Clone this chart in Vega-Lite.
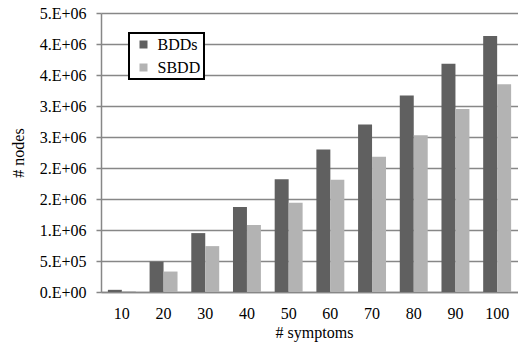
{
  "$schema": "https://vega.github.io/schema/vega-lite/v6.json",
  "width": 417,
  "height": 279,
  "autosize": {"type": "none"},
  "padding": {"left": 101, "top": 13, "right": 0, "bottom": 50},
  "background": "white",
  "config": {"view": {"stroke": null}, "font": "Liberation Serif", "legend": {"strokeWidth": 2}},
  "data": {"values": [
    {"n": 10, "series": "BDDs", "v": 35000},
    {"n": 10, "series": "SBDD", "v": 15000},
    {"n": 20, "series": "BDDs", "v": 490000},
    {"n": 20, "series": "SBDD", "v": 330000},
    {"n": 30, "series": "BDDs", "v": 950000},
    {"n": 30, "series": "SBDD", "v": 740000},
    {"n": 40, "series": "BDDs", "v": 1370000},
    {"n": 40, "series": "SBDD", "v": 1080000},
    {"n": 50, "series": "BDDs", "v": 1820000},
    {"n": 50, "series": "SBDD", "v": 1440000},
    {"n": 60, "series": "BDDs", "v": 2300000},
    {"n": 60, "series": "SBDD", "v": 1810000},
    {"n": 70, "series": "BDDs", "v": 2700000},
    {"n": 70, "series": "SBDD", "v": 2180000},
    {"n": 80, "series": "BDDs", "v": 3170000},
    {"n": 80, "series": "SBDD", "v": 2530000},
    {"n": 90, "series": "BDDs", "v": 3680000},
    {"n": 90, "series": "SBDD", "v": 2950000},
    {"n": 100, "series": "BDDs", "v": 4130000},
    {"n": 100, "series": "SBDD", "v": 3350000}
  ]},
  "mark": {"type": "bar"},
  "encoding": {
    "x": {
      "field": "n", "type": "ordinal", "title": "# symptoms",
      "scale": {"paddingInner": 0.33, "paddingOuter": 0.165},
      "axis": {
        "labelAngle": 0, "labelFont": "Liberation Serif", "labelFontSize": 16, "labelColor": "black",
        "ticks": false, "tickSize": 0, "labelPadding": 13,
        "domainColor": "#878787", "domainWidth": 1.5, "grid": false,
        "titleFont": "Liberation Serif", "titleFontSize": 16, "titleFontWeight": "normal", "titleColor": "black",
        "titleX": 213, "titleY": 45, "titleBaseline": "alphabetic", "titleAlign": "center"
      }
    },
    "xOffset": {"field": "series", "type": "nominal", "sort": ["BDDs", "SBDD"], "scale": {"paddingInner": 0, "paddingOuter": 0}},
    "y": {
      "field": "v", "type": "quantitative", "title": "# nodes",
      "scale": {"domain": [0, 4500000], "nice": false},
      "axis": {
        "values": [0, 500000, 1000000, 1500000, 2000000, 2500000, 3000000, 3500000, 4000000, 4500000],
        "labelExpr": "datum.value == 0 ? '0.E+00' : (datum.value < 1000000 ? '5.E+05' : round(datum.value / 1000000) + '.E+06')",
        "labelFont": "Liberation Serif", "labelFontSize": 16, "labelColor": "black",
        "tickSize": 5, "tickColor": "#878787", "tickWidth": 1.5, "labelPadding": 10,
        "domainColor": "#878787", "domainWidth": 1.5,
        "grid": true, "gridColor": "#878787", "gridWidth": 1.5,
        "titleFont": "Liberation Serif", "titleFontSize": 16, "titleFontWeight": "normal", "titleColor": "black",
        "titleX": -78, "titleY": 139.5, "titleAngle": 270, "titleBaseline": "alphabetic", "titleAlign": "center"
      }
    },
    "color": {
      "field": "series", "type": "nominal",
      "scale": {"domain": ["BDDs", "SBDD"], "range": ["#606060", "#b3b3b3"]},
      "legend": {
        "orient": "none", "legendX": 28, "legendY": 20, "title": null,
        "symbolType": "square", "symbolSize": 64, "symbolStrokeWidth": 0, "symbolOpacity": 1,
        "labelFont": "Liberation Serif", "labelFontSize": 16, "labelColor": "black",
        "padding": 3.5, "rowPadding": 7, "symbolOffset": 3, "labelOffset": 6,
        "strokeColor": "black", "fillColor": "white"
      }
    }
  }
}
